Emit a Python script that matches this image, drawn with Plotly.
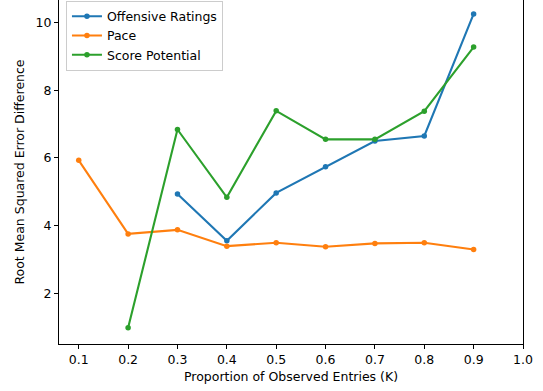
import plotly.graph_objects as go

# Proportion of observed entries (K)
k_offense = [0.3, 0.4, 0.5, 0.6, 0.7, 0.8, 0.9]
k_pace = [0.1, 0.2, 0.3, 0.4, 0.5, 0.6, 0.7, 0.8, 0.9]
k_score = [0.2, 0.3, 0.4, 0.5, 0.6, 0.7, 0.8, 0.9]

# RMSE difference per feature
offensive_ratings = [4.94, 3.56, 4.97, 5.74, 6.50, 6.65, 10.25]
pace = [5.93, 3.76, 3.88, 3.40, 3.50, 3.38, 3.48, 3.50, 3.30]
score_potential = [0.99, 6.84, 4.84, 7.39, 6.55, 6.55, 7.38, 9.27]

x_ticks = [0.1, 0.2, 0.3, 0.4, 0.5, 0.6, 0.7, 0.8, 0.9, 1.0]
y_ticks = [2, 4, 6, 8, 10]

FONT = "DejaVu Sans"

fig = go.Figure()
for name, xs, ys, color in [
    ("Offensive Ratings", k_offense, offensive_ratings, "#1f77b4"),
    ("Pace", k_pace, pace, "#ff7f0e"),
    ("Score Potential", k_score, score_potential, "#2ca02c"),
]:
    fig.add_trace(go.Scatter(
        x=xs, y=ys, name=name, mode="lines+markers",
        line=dict(color=color, width=2.1),
        marker=dict(color=color, size=5.5),
    ))

axis_common = dict(
    showgrid=False, zeroline=False, showline=True, linecolor="black",
    linewidth=1, ticks="outside", ticklen=4, tickcolor="black",
    tickfont=dict(family=FONT, size=12.5, color="black"),
)

fig.update_layout(
    width=543, height=391,
    margin=dict(l=59, r=20, t=0, b=47.3),
    plot_bgcolor="white", paper_bgcolor="white",
    font=dict(family=FONT, size=12.5, color="black"),
    showlegend=True,
    legend=dict(
        x=0.015, y=0.998, xanchor="left", yanchor="top",
        bgcolor="rgba(255,255,255,0.8)", bordercolor="#cccccc", borderwidth=1,
        font=dict(family=FONT, size=12.5, color="black"),
        tracegroupgap=0, itemwidth=30,
        entrywidth=150, entrywidthmode="pixels",
    ),
    xaxis=dict(
        **axis_common, range=[0.06, 1.0], tickvals=x_ticks,
        ticktext=[f"{v:.1f}" for v in x_ticks], mirror=False,
        title=dict(text="Proportion of Observed Entries (K)",
                   font=dict(family=FONT, size=12.5), standoff=6),
    ),
    yaxis=dict(
        **axis_common, range=[0.513, 10.66], tickvals=y_ticks, mirror=True,
        title=dict(text="Root Mean Squared Error Difference",
                   font=dict(family=FONT, size=12.5), standoff=8),
    ),
)

fig.write_html("out.html")
